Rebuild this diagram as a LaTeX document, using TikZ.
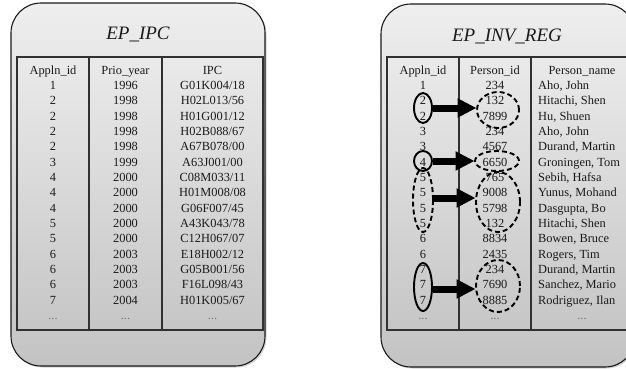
\documentclass[tikz,border=0pt]{standalone}
\usepackage{fontspec}
\setmainfont{Liberation Serif}
\usetikzlibrary{shapes.geometric,arrows.meta,shadows}
\definecolor{boxtop}{HTML}{EEEEEE}
\definecolor{boxbot}{HTML}{C3C3C3}
\definecolor{tabtop}{HTML}{EAEAEA}
\definecolor{tabbot}{HTML}{C6C6C6}
\definecolor{ink}{HTML}{1A1A1A}
\tikzset{
  outerbox/.style={draw=ink, line width=1.1pt, rounded corners=30pt, top color=boxtop, bottom color=boxbot,
    minimum width=254pt, minimum height=363pt, inner sep=0pt,
    drop shadow={shadow xshift=1.5pt, shadow yshift=-1.5pt, opacity=0.35}},
  tablebox/.style={draw=ink!90, line width=1.2pt, top color=tabtop, bottom color=tabbot,
    minimum width=246pt, minimum height=273pt, inner sep=0pt},
  colline/.style={draw=ink!90, line width=1.2pt},
  title/.style={font=\fontsize{19}{22}\selectfont\itshape, text=ink, inner sep=0pt, anchor=base},
  cell/.style={font=\fontsize{12.4}{15}\selectfont, text=ink, inner sep=0pt, anchor=base},
  lcell/.style={cell, anchor=base west},
  dots/.style={cell, text=ink!60},
  solidring/.style={ellipse, draw=black, line width=1.9pt, inner sep=0pt},
  dashring/.style={ellipse, draw=black, line width=1.9pt, dash pattern=on 5pt off 3pt, inner sep=0pt},
  fatarrow/.style={draw=black, line width=7pt, -{Triangle[length=19pt 0 0, width=18pt 0 0]}, shorten >=-0.5pt},
}
\begin{document}
\begin{tikzpicture}[x=1pt,y=-1pt]
\useasboundingbox (0,0) rectangle (626,369);
\clip (0,0) rectangle (626,369);
% ---------------- left box ----------------
\node[outerbox] (boxL) at (138,184.5) {};
\node[title] (tL) at (138,39.8) {EP\_IPC};
\node[tablebox] (tabL) at (140,193.5) {};
\coordinate (cL1t) at (89,57); \coordinate (cL1b) at (89,330);
\coordinate (cL2t) at (162,57); \coordinate (cL2b) at (162,330);
\draw[colline] (cL1t) -- (cL1b);
\draw[colline] (cL2t) -- (cL2b);
\node[cell] (hL1) at (53,74.2) {Appln\_id};
\node[cell] (hL2) at (125.5,74.2) {Prio\_year};
\node[cell] (hL3) at (212.5,74.2) {IPC};
\foreach \a/\b/\c [count=\i] in {1/1996/{G01K004/18},2/1998/{H02L013/56},2/1998/{H01G001/12},2/1998/{H02B088/67},
  2/1998/{A67B078/00},3/1999/{A63J001/00},4/2000/{C08M033/11},4/2000/{H01M008/08},4/2000/{G06F007/45},
  5/2000/{A43K043/78},5/2000/{C12H067/07},6/2003/{E18H002/12},6/2003/{G05B001/56},6/2003/{F16L098/43},7/2004/{H01K005/67}}{
  \pgfmathsetmacro{\yy}{74.2+15.33*\i}
  \node[cell] (L\i a) at (53,\yy) {\a};
  \node[cell] (L\i b) at (125.5,\yy) {\b};
  \node[cell] (L\i c) at (212.5,\yy) {\c};
}
\node[dots] (Lda) at (53,319) {...};
\node[dots] (Ldb) at (125.5,319) {...};
\node[dots] (Ldc) at (212.5,319) {...};
% ---------------- right box ----------------
\node[outerbox] (boxR) at (508,185.5) {};
\node[title] (tR) at (507,41.5) {EP\_INV\_REG};
\node[tablebox] (tabR) at (510,193.5) {};
\coordinate (cR1t) at (459,57); \coordinate (cR1b) at (459,330);
\coordinate (cR2t) at (531,57); \coordinate (cR2b) at (531,330);
\draw[colline] (cR1t) -- (cR1b);
\draw[colline] (cR2t) -- (cR2b);
\node[cell] (hR1) at (423,74.2) {Appln\_id};
\node[cell] (hR2) at (495,74.2) {Person\_id};
\node[cell] (hR3) at (582,74.2) {Person\_name};
\foreach \a/\b/\c [count=\i] in {1/234/{Aho, John},2/132/{Hitachi, Shen},2/7899/{Hu, Shuen},3/234/{Aho, John},
  3/4567/{Durand, Martin},4/6650/{Groningen, Tom},5/765/{Sebih, Hafsa},5/9008/{Yunus, Mohand},
  5/5798/{Dasgupta, Bo},5/132/{Hitachi, Shen},6/8834/{Bowen, Bruce},6/2435/{Rogers, Tim},
  7/234/{Durand, Martin},7/7690/{Sanchez, Mario},7/8885/{Rodriguez, Ilan}}{
  \pgfmathsetmacro{\yy}{74.2+15.33*\i}
  \node[cell] (R\i a) at (423,\yy) {\a};
  \node[cell] (R\i b) at (495,\yy) {\b};
  \node[lcell] (R\i c) at (538,\yy) {\c};
}
\node[dots] (Rda) at (423,319) {...};
\node[dots] (Rdb) at (495,319) {...};
\node[dots] (Rdc) at (582,319) {...};
% ---------------- rings and arrows ----------------
\node[solidring, minimum width=18pt, minimum height=30pt] (s1) at (423,108) {};
\node[dashring, minimum width=42pt, minimum height=36pt] (d1) at (498,110) {};
\node[solidring, minimum width=18pt, minimum height=20pt] (s2) at (423,161) {};
\node[dashring, minimum width=44pt, minimum height=20pt] (d2) at (497,161) {};
\node[dashring, minimum width=20pt, minimum height=64pt] (s3) at (423,200) {};
\node[dashring, minimum width=44pt, minimum height=60pt] (d3) at (498,202) {};
\node[solidring, minimum width=18pt, minimum height=48pt] (s4) at (423,287) {};
\node[dashring, minimum width=44pt, minimum height=52pt] (d4) at (498,286) {};
\draw[fatarrow] (s1.east) -- (s1.east -| d1.west);
\draw[fatarrow] (s2.east) -- (s2.east -| d2.west);
\draw[fatarrow] ([yshift=2pt]s3.east) -- ([yshift=2pt]s3.east -| d3.west);
\draw[fatarrow] ([yshift=-2pt]s4.east) -- ([yshift=-2pt]s4.east -| d4.west);
\end{tikzpicture}
\end{document}
